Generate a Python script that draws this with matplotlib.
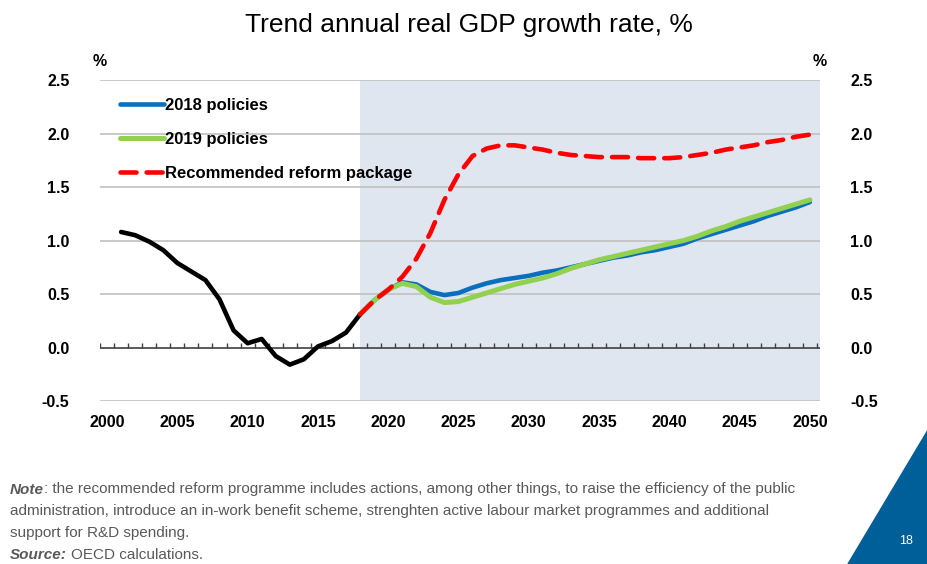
import matplotlib
matplotlib.use("Agg")
import matplotlib.pyplot as plt
import numpy as np
from matplotlib.patches import Polygon

plt.rcParams["font.family"] = ["Liberation Sans Narrow", "Liberation Sans", "DejaVu Sans"]

# ---- data ----
hist_years = list(range(2001, 2019))
hist_vals = [1.08, 1.05, 0.99, 0.91, 0.79, 0.71, 0.63, 0.45, 0.16, 0.04, 0.08,
             -0.08, -0.16, -0.11, 0.01, 0.06, 0.14, 0.31]

proj_years = list(range(2018, 2051))
pol2018 = [0.31, 0.44, 0.54, 0.61, 0.59, 0.52, 0.49, 0.51, 0.56, 0.60, 0.63,
           0.65, 0.67, 0.70, 0.72, 0.75, 0.78, 0.81, 0.84, 0.86, 0.89, 0.91,
           0.94, 0.97, 1.02, 1.06, 1.10, 1.14, 1.18, 1.23, 1.27, 1.31, 1.36]
pol2019 = [0.31, 0.44, 0.54, 0.60, 0.57, 0.47, 0.42, 0.43, 0.47, 0.51, 0.55,
           0.59, 0.62, 0.65, 0.69, 0.74, 0.78, 0.82, 0.85, 0.88, 0.91, 0.94,
           0.97, 1.00, 1.04, 1.09, 1.13, 1.18, 1.22, 1.26, 1.30, 1.34, 1.38]
reform = [0.31, 0.44, 0.54, 0.66, 0.83, 1.07, 1.38, 1.62, 1.79, 1.86, 1.89,
          1.89, 1.87, 1.85, 1.82, 1.80, 1.79, 1.78, 1.78, 1.78, 1.77, 1.77,
          1.77, 1.78, 1.80, 1.82, 1.85, 1.87, 1.89, 1.92, 1.94, 1.97, 1.99]

first_year, last_year = 2000, 2050
tick_years = list(range(2000, 2051, 5))
yticks = [-0.5, 0.0, 0.5, 1.0, 1.5, 2.0, 2.5]

fig = plt.figure(figsize=(9.28, 5.64), dpi=100)
ax = fig.add_axes([0.1078, 0.289, 0.7755, 0.569])

ax.set_xlim(first_year - 0.5, last_year + 0.7)
ax.set_ylim(-0.5, 2.5)

# projection shading
ax.axvspan(2018, last_year + 0.7, color="#dfe6f0", zorder=0, lw=0)

# grid + zero axis with small ticks between years
for v in yticks:
    if v != 0:
        ax.axhline(v, color="#c0c0c0", lw=1.2, zorder=1)
ax.axhline(0, color="#404040", lw=1.2, zorder=2)
ax.vlines(np.arange(first_year - 0.5, last_year + 0.6, 1), 0, 0.045,
          color="#404040", lw=1, zorder=2)

ax.plot(hist_years, hist_vals, color="black", lw=3.3, solid_capstyle="round", zorder=5)
ax.plot(proj_years, pol2018, color="#0a6fbd", lw=3.3, solid_capstyle="round",
        zorder=4, label="2018 policies")
ax.plot(proj_years, pol2019, color="#92d050", lw=3.6, solid_capstyle="round",
        zorder=4.5, label="2019 policies")
ax.plot(proj_years, reform, color="#ff0000", lw=3.3, dashes=(3.5, 2.2),
        dash_capstyle="round", zorder=6, label="Recommended reform package")

for s in ax.spines.values():
    s.set_visible(False)
ax.set_xticks(tick_years)
ax.set_xticklabels([str(y) for y in tick_years], fontsize=11.5, fontweight="bold")
ax.tick_params(axis="x", length=0, pad=10)
ax.set_yticks(yticks)
ax.set_yticklabels([f"{v:.1f}" for v in yticks], fontsize=11.5, fontweight="bold")
ax.tick_params(axis="y", length=0, pad=22, labelright=True)

ax.text(-0.01, 1.035, "%", transform=ax.transAxes, fontsize=11.5, fontweight="bold",
        ha="left", va="bottom")
ax.text(0.99, 1.035, "%", transform=ax.transAxes, fontsize=11.5, fontweight="bold",
        ha="left", va="bottom")

leg = ax.legend(loc="upper left", bbox_to_anchor=(0.012, 0.982), frameon=False,
                fontsize=12, handlelength=2.6, handletextpad=0.1, labelspacing=1.15,
                borderaxespad=0.3)
for t in leg.get_texts():
    t.set_fontweight("bold")

fig.text(0.505, 0.955, "Trend annual real GDP growth rate, %", ha="center", va="center",
         fontsize=19, family=["Liberation Sans", "DejaVu Sans"])

# note block: bold-italic lead-in, then plain text on the same baseline
gray = "#595959"
fs = 11
x0 = 0.011
note = fig.text(x0, 0.125, "Note", fontsize=fs, color=gray, fontweight="bold",
                style="italic", va="baseline")
fig.text(x0, 0.086, "administration, introduce an in-work benefit scheme, strenghten "
         "active labour market programmes and additional", fontsize=fs, color=gray,
         va="baseline")
fig.text(x0, 0.047, "support for R&D spending.", fontsize=fs, color=gray, va="baseline")
src = fig.text(x0, 0.008, "Source:", fontsize=fs, color=gray, fontweight="bold",
               style="italic", va="baseline")

fig.canvas.draw()
inv = fig.transFigure.inverted()
note_end = inv.transform(note.get_window_extent().get_points())[1, 0]
src_end = inv.transform(src.get_window_extent().get_points())[1, 0]
fig.text(note_end, 0.125, ": the recommended reform programme includes actions, among "
         "other things, to raise the efficiency of the public", fontsize=fs, color=gray,
         va="baseline")
fig.text(src_end + 0.004, 0.008, "OECD calculations.", fontsize=fs, color=gray,
         va="baseline")

# page corner
fig.patches.append(Polygon([[848 / 928, 0], [1, 134 / 564], [1, 0]], closed=True,
                           transform=fig.transFigure, color="#005f99", zorder=0))
fig.text(906 / 928, 1 - 541 / 564, "18", color="white", fontsize=9, ha="center",
         va="center")

fig.savefig("out.png", dpi=100)
